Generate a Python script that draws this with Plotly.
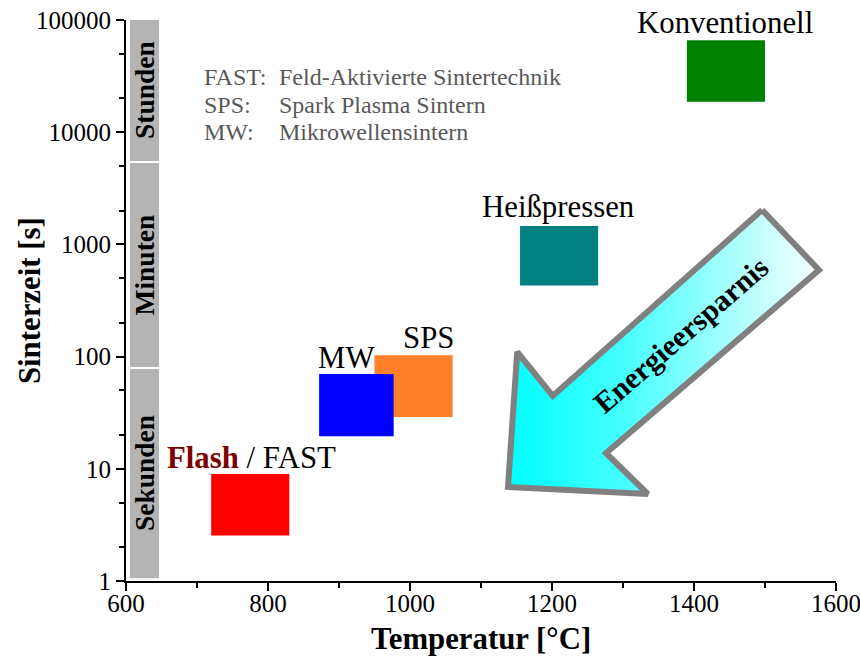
import numpy as np
import plotly.graph_objects as go

# ---------------- data ----------------
methods = ["Flash / FAST", "SPS", "MW", "Heißpressen", "Konventionell"]
t_min = [720, 950, 872, 1155, 1390]
t_max = [830, 1060, 977, 1265, 1500]
time_min = [2.55, 29, 19.5, 430, 18700]
time_max = [9.0, 103, 70, 1460, 66000]
colors = ["#FF0000", "#FF7F2A", "#0000FF", "#008080", "#008000"]

label_text = ["<b><span style='color:#800000'>Flash</span></b> / FAST", "SPS", "MW", "Heißpressen", "Konventionell"]
label_x = [777, 1026, 910, 1209, 1444]
label_y = [12.5, 146, 97, 2150, 94000]

band_names = ["Stunden", "Minuten", "Sekunden"]
band_low = [5540, 80.8, 1.06]
band_high = [100000, 5310, 77.5]
band_x = [605.6, 646.5]

legend_abbr = ["FAST:", "SPS:", "MW:"]
legend_desc = ["Feld-Aktivierte Sintertechnik", "Spark Plasma Sintern", "Mikrowellensintern"]
legend_y = [31300, 17460, 10100]
legend_x = [707, 812]

arrow_x = [1496, 1576, 1276, 1335, 1138, 1151, 1201, 1496]
arrow_y = [2027, 591, 13.8, 5.96, 6.88, 110, 44.6, 2027]
arrow_label = "Energieersparnis"
arrow_label_pos = (1382, 156)

x_ticks = [600, 800, 1000, 1200, 1400, 1600]
x_minor = [700, 900, 1100, 1300, 1500]
y_ticks = [1, 10, 100, 1000, 10000, 100000]
y_ticktext = ["1", "10", "100", "1000", "10000", "100000"]
x_title = "Temperatur [°C]"
y_title = "Sinterzeit [s]"

FONT = "Liberation Serif"
LBL = 30.8
TICK = 25

fig = go.Figure()

# gray time bands
for lo, hi in zip(band_low, band_high):
    fig.add_trace(go.Scatter(
        x=[band_x[0], band_x[1], band_x[1], band_x[0], band_x[0]],
        y=[lo, lo, hi, hi, lo], fill="toself", mode="lines",
        line=dict(width=0), fillcolor="#B4B4B4", hoverinfo="skip", showlegend=False))

# method rectangles (SPS before MW so MW is on top)
for i in range(len(methods)):
    fig.add_trace(go.Scatter(
        x=[t_min[i], t_max[i], t_max[i], t_min[i], t_min[i]],
        y=[time_min[i], time_min[i], time_max[i], time_max[i], time_min[i]],
        fill="toself", mode="lines", line=dict(width=0),
        fillcolor=colors[i], name=methods[i], showlegend=False))

# arrow
fig.add_trace(go.Scatter(
    x=arrow_x, y=arrow_y, fill="toself", mode="lines",
    line=dict(color="#808080", width=6),
    fillgradient=dict(type="horizontal",
                      colorscale=[[0, "#00FFFF"], [0.35, "#40FFFF"], [1, "#F8FFFF"]]),
    hoverinfo="skip", showlegend=False))

annotations = []
for txt, x, y in zip(label_text, label_x, label_y):
    annotations.append(dict(x=x, y=np.log10(y), xref="x", yref="y", text=txt,
                            showarrow=False, xanchor="center", yanchor="middle",
                            font=dict(family=FONT, size=LBL, color="black")))
for name, lo, hi in zip(band_names, band_low, band_high):
    annotations.append(dict(x=(band_x[0] + band_x[1]) / 2, y=(np.log10(lo) + np.log10(hi)) / 2,
                            xref="x", yref="y", text="<b>" + name + "</b>", textangle=-90,
                            showarrow=False, xanchor="center", yanchor="middle",
                            font=dict(family=FONT, size=27.5, color="black")))
for a, d, y in zip(legend_abbr, legend_desc, legend_y):
    annotations.append(dict(x=legend_x[0], y=np.log10(y), xref="x", yref="y", text=a,
                            showarrow=False, xanchor="left", yanchor="middle",
                            font=dict(family=FONT, size=24, color="#595959")))
    annotations.append(dict(x=legend_x[1], y=np.log10(y), xref="x", yref="y", text=d,
                            showarrow=False, xanchor="left", yanchor="middle",
                            font=dict(family=FONT, size=24, color="#595959")))
annotations.append(dict(x=arrow_label_pos[0], y=np.log10(arrow_label_pos[1]), xref="x", yref="y",
                        text="<b>" + arrow_label + "</b>", textangle=-41, showarrow=False,
                        xanchor="center", yanchor="middle",
                        font=dict(family=FONT, size=30, color="black")))
# axis titles
annotations.append(dict(x=0.5, y=-0.1027, xref="paper", yref="paper", text="<b>" + x_title + "</b>",
                        showarrow=False, xanchor="center", yanchor="middle",
                        font=dict(family=FONT, size=LBL, color="black")))
annotations.append(dict(x=-0.1358, y=0.5, xref="paper", yref="paper", text="<b>" + y_title + "</b>",
                        textangle=-90, showarrow=False, xanchor="center", yanchor="middle",
                        font=dict(family=FONT, size=LBL, color="black")))

fig.update_layout(
    width=860, height=657,
    margin=dict(l=126, r=24, t=20, b=76, autoexpand=False),
    plot_bgcolor="white", paper_bgcolor="white",
    font=dict(family=FONT, size=TICK, color="black"),
    annotations=annotations,
    showlegend=False,
)
fig.update_xaxes(
    range=[600, 1600], tickvals=x_ticks, showgrid=False, zeroline=False, automargin=False,
    showline=True, linecolor="black", linewidth=2,
    ticks="outside", ticklen=8, tickwidth=2, tickcolor="black",
    tickfont=dict(family=FONT, size=TICK), ticklabelstandoff=-9, ticklabeloverflow="allow",
    minor=dict(tickvals=x_minor, ticks="outside", ticklen=5, tickwidth=2, tickcolor="black"),
)
fig.update_yaxes(
    type="log", range=[0, 5], tickvals=y_ticks, ticktext=y_ticktext,
    showgrid=False, zeroline=False, automargin=False,
    showline=True, linecolor="black", linewidth=2,
    ticks="outside", ticklen=8, tickwidth=2, tickcolor="black",
    tickfont=dict(family=FONT, size=TICK), ticklabeloverflow="allow",
    minor=dict(ticks="outside", ticklen=5, tickwidth=1.5, tickcolor="black", showgrid=False),
)

fig.write_html("out.html")
